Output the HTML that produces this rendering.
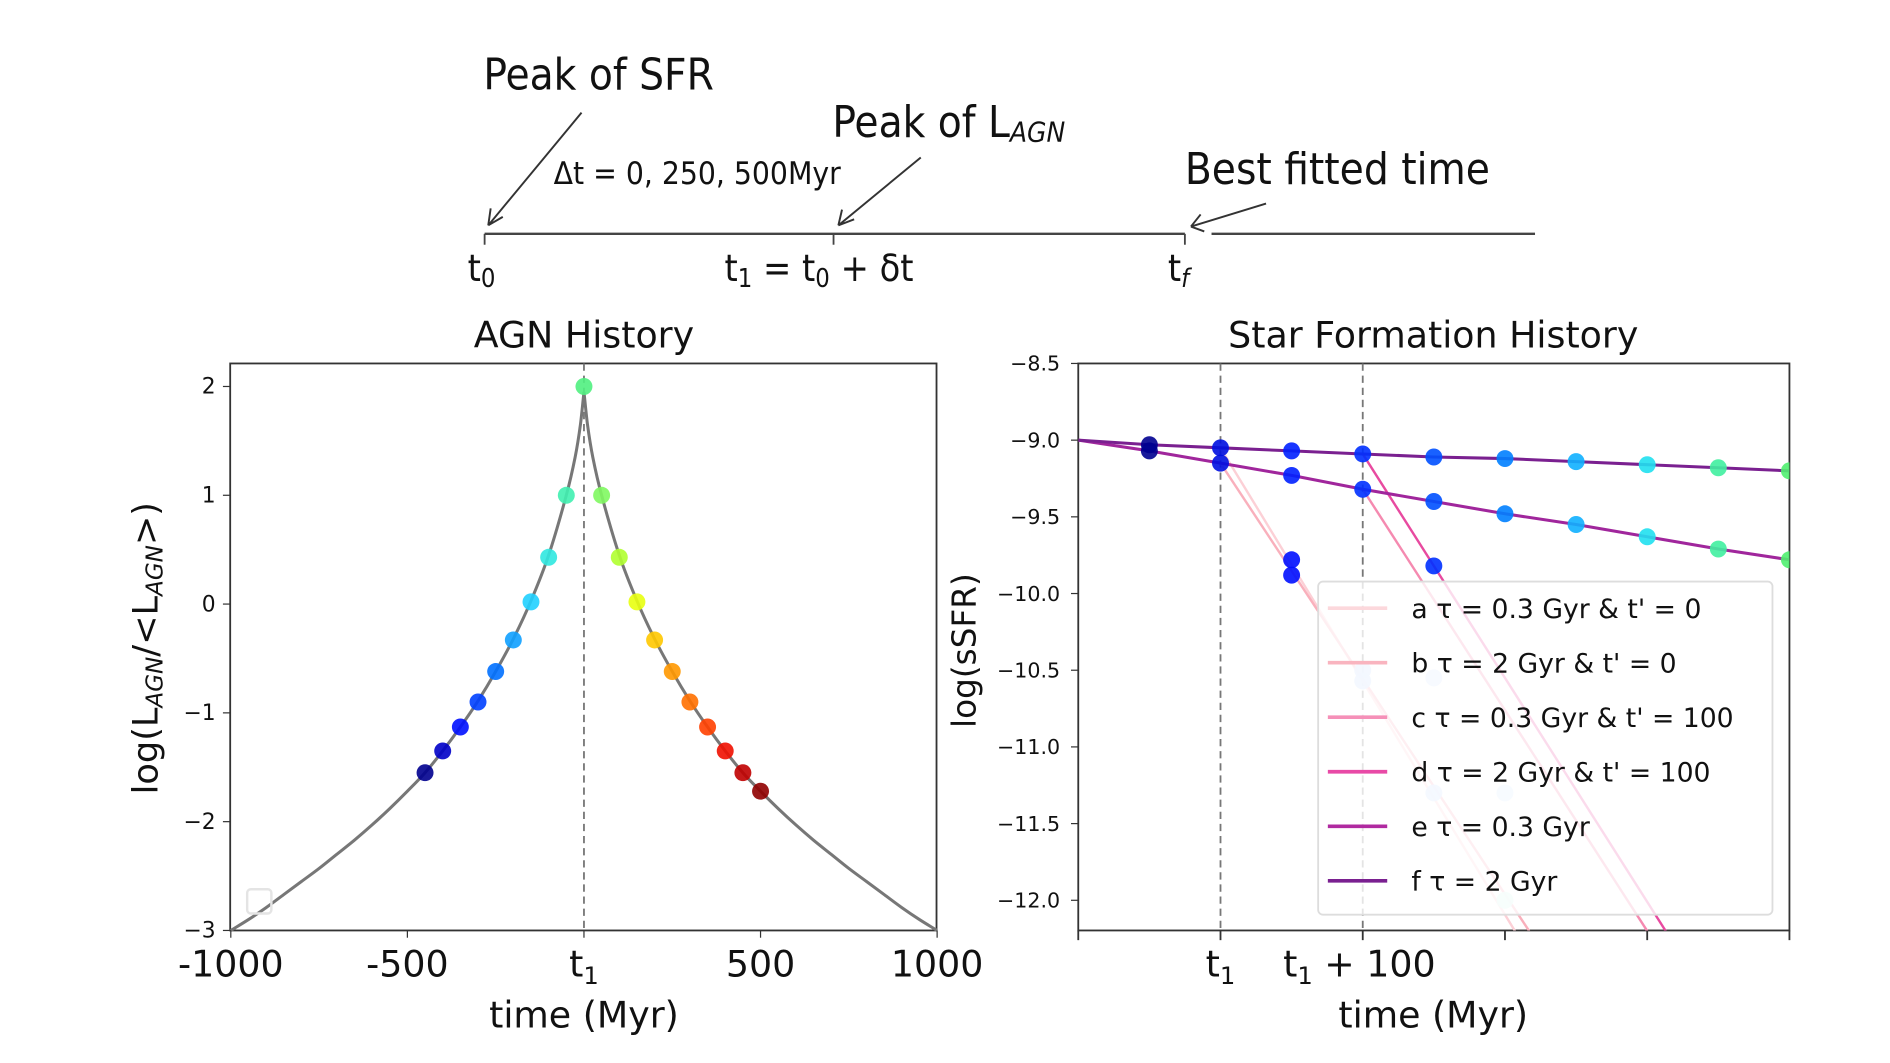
<!DOCTYPE html>
<html><head><meta charset="utf-8"><style>
html,body{margin:0;padding:0;background:#fff;}
svg{display:block;}
text{font-family:"DejaVu Sans","Liberation Sans",sans-serif;fill:#111;}
.comic{font-family:"DejaVu Sans Condensed","Liberation Sans Narrow","Liberation Sans",sans-serif;}
</style></head><body>
<svg id="fig" width="1890" height="1063" viewBox="0 0 1560 877.4" xmlns="http://www.w3.org/2000/svg">
<g id="timeline">
  <line x1="400" y1="193" x2="978" y2="193" stroke="#444" stroke-width="2"/>
  <line x1="1000" y1="193" x2="1267" y2="193" stroke="#444" stroke-width="2"/>
  <line x1="400" y1="193" x2="400" y2="202" stroke="#444" stroke-width="1.5"/>
  <line x1="688" y1="193" x2="688" y2="202" stroke="#444" stroke-width="1.5"/>
  <line x1="978" y1="193" x2="978" y2="202" stroke="#444" stroke-width="1.5"/>
  <text class="comic" x="399" y="74" font-size="36">Peak of SFR</text>
  <text class="comic" x="687" y="113" font-size="36">Peak of L<tspan font-size="23" font-style="italic" dy="4">AGN</tspan></text>
  <text class="comic" x="457" y="152" font-size="26">Δt = 0, 250, 500Myr</text>
  <text class="comic" x="978" y="152" font-size="36">Best fitted time</text>
  <g stroke="#333" stroke-width="1.6" fill="none">
    <path d="M480,93 L403,186 M403,186 l2,-14 M403,186 l12,-7"/>
    <path d="M760,130 L692,186 M692,186 l3,-13 M692,186 l13,-5"/>
    <path d="M1045,168 L983,187 M983,187 l8,-10 M983,187 l11,4"/>
  </g>
  <text class="comic" x="386" y="232" font-size="31">t<tspan font-size="21" dy="5">0</tspan></text>
  <text class="comic" x="598" y="232" font-size="31">t<tspan font-size="21" dy="5">1</tspan><tspan dy="-5"> = t</tspan><tspan font-size="21" dy="5">0</tspan><tspan dy="-5"> + δt</tspan></text>
  <text class="comic" x="964" y="232" font-size="31">t<tspan font-size="21" dy="5" font-style="italic">f</tspan></text>
</g>
<g id="left"></g>
<g id="right"></g>
</svg>
<script>
// ---------- AGN data ----------
const agnCurveT = [-1000,-950,-900,-850,-800,-750,-700,-650,-600,-550,-500,-450,-400,-350,-300,-250,-200,-150,-100,-50,-25,-10,0,10,25,50,100,150,200,250,300,350,400,450,500,550,600,650,700,750,800,850,900,950,1000];
const agnCurveY = [-3,-2.9,-2.79,-2.67,-2.55,-2.43,-2.3,-2.17,-2.03,-1.88,-1.72,-1.55,-1.35,-1.13,-0.89,-0.62,-0.32,0.03,0.45,1.0,1.35,1.65,1.95,1.65,1.35,1.0,0.45,0.03,-0.32,-0.62,-0.89,-1.13,-1.35,-1.55,-1.72,-1.88,-2.03,-2.17,-2.3,-2.43,-2.55,-2.67,-2.79,-2.9,-3];
const agnPointT = [-450,-400,-350,-300,-250,-200,-150,-100,-50,0,50,100,150,200,250,300,350,400,450,500];
const agnPointY = [-1.55,-1.35,-1.13,-0.9,-0.62,-0.33,0.02,0.43,1.0,2.0,1.0,0.43,0.02,-0.33,-0.62,-0.9,-1.13,-1.35,-1.55,-1.72];
const agnPointColor = ['#00008f','#0000c8','#0010ff','#0040ff','#0070ff','#10a0ff','#20d0ff','#30e8e0','#40f0b0','#50f080','#80f860','#b0ff30','#e8ff10','#ffc800','#ff9800','#ff7000','#ff4000','#f01000','#c00000','#900000'];
const agnYTicks = [2,1,0,-1,-2,-3];
const agnXTicks = [-1000,-500,0,500,1000];
const agnXTickLabels = ['-1000','-500','t1','500','1000'];
// ---------- SFH data ----------
const sfhT = [0,50,100,150,200,250,300,350,400,450,500];
const sfhF = [-9.0,-9.03,-9.05,-9.07,-9.09,-9.11,-9.12,-9.14,-9.16,-9.18,-9.2];
const sfhE = [-9.0,-9.07,-9.15,-9.23,-9.32,-9.4,-9.48,-9.55,-9.63,-9.71,-9.78];
const sfhMarkerColor = ['#00008f','#000090','#0010e0','#0020ff','#0030ff','#0050ff','#0080ff','#10b0ff','#20e0f0','#40f0a0','#50f070'];
const steepStartT = [100,100,200,200];
const steepStartY = [-9.05,-9.15,-9.32,-9.09];
const steepEndT = [307,317,400,413];
const steepEndY = [-12.2,-12.2,-12.2,-12.2];
const steepColor = ['#fcd0d6','#f9b0bc','#f58ab0','#e84aa0'];
const steepMarkT = [150,150,250,200,200,250,250,300,300];
const steepMarkY = [-9.78,-9.88,-9.82,-10.5,-10.57,-10.55,-11.3,-11.3,-12.0];
const steepMarkColor = ['#0010ff','#0010ff','#0030ff','#c0d8ff','#c0d8ff','#d0e0ff','#c8dcff','#d0e8ff','#d0f8f0'];
const sfhYTicks = [-8.5,-9.0,-9.5,-10.0,-10.5,-11.0,-11.5,-12.0];
const legendLabels = ["a τ = 0.3 Gyr & t' = 0","b τ = 2 Gyr & t' = 0","c τ = 0.3 Gyr & t' = 100","d τ = 2 Gyr & t' = 100","e τ = 0.3 Gyr","f τ = 2 Gyr"];
const legendColors = ['#fcd8dc','#f9b4bf','#f590b8','#e84aa6','#b02aa0','#7a2090'];

const NS='http://www.w3.org/2000/svg';
function mk(parent,tag,attrs,txt){const e=document.createElementNS(NS,tag);for(const k in attrs)e.setAttribute(k,attrs[k]);if(txt!==undefined)e.textContent=txt;parent.appendChild(e);return e;}
function smoothPath(pts){
  const n=pts.length;
  const isPeak=i=>i>0&&i<n-1&&pts[i][1]<pts[i-1][1]&&pts[i][1]<pts[i+1][1];
  const tang=(i,side)=>{ // returns slope vector per unit x
    if(isPeak(i)){const q=side>0?pts[i+1]:pts[i-1];return [1,(q[1]-pts[i][1])/(q[0]-pts[i][0])];}
    const a=pts[Math.max(0,i-1)],b=pts[Math.min(n-1,i+1)];
    return [1,(b[1]-a[1])/(b[0]-a[0])];
  };
  let d='M'+pts[0][0]+','+pts[0][1];
  for(let i=0;i<n-1;i++){
    const p1=pts[i],p2=pts[i+1],h=(p2[0]-p1[0])/3;
    const m1=tang(i,1),m2=tang(i+1,-1);
    d+=' C'+(p1[0]+h)+','+(p1[1]+m1[1]*h)+' '+(p2[0]-h)+','+(p2[1]-m2[1]*h)+' '+p2[0]+','+p2[1];
  }
  return d;
}

// ---- Left panel ----
const L=document.getElementById('left');
const lx=t=>482+(t/1000)*291.5, ly=v=>319+(2-v)*89.8;
let e=mk(L,'rect',{x:190,y:300,width:583,height:468,fill:'#fff',stroke:'#333','stroke-width':1.5});


e=mk(L,'line',{x1:lx(0),y1:300,x2:lx(0),y2:768,stroke:'#777','stroke-width':1.5,'stroke-dasharray':'6,4'});


e=mk(L,'path',{d:smoothPath(agnCurveT.map((t,i)=>[lx(t),ly(agnCurveY[i])])),fill:'none',stroke:'#777','stroke-width':2.5});


agnPointT.forEach((t,i)=>{
  const c=mk(L,'circle',{cx:lx(t),cy:ly(agnPointY[i]),r:7,fill:agnPointColor[i],opacity:0.9});
  
  
});
e=mk(L,'rect',{x:204,y:734,width:20,height:20,rx:3,fill:'none',stroke:'#e4e4e4','stroke-width':2});


agnYTicks.forEach(v=>{
  const tk=mk(L,'line',{x1:184,y1:ly(v),x2:190,y2:ly(v),stroke:'#333'});
  
  
  const tx=mk(L,'text',{x:178,y:ly(v)+6,'font-size':18,'text-anchor':'end'},v<0?'−'+(-v):String(v));
  
  
});
agnXTicks.forEach((t,i)=>{
  const tk=mk(L,'line',{x1:lx(t),y1:768,x2:lx(t),y2:774,stroke:'#333'});
  
  
  const tx=mk(L,'text',{x:lx(t),y:806,'font-size':30,'text-anchor':'middle'});
  
  
  const lab=agnXTickLabels[i];
  if(lab==='t1'){tx.textContent='t';mk(tx,'tspan',{'font-size':20,dy:6},'1');}else tx.textContent=lab;
});
e=mk(L,'text',{x:482,y:287,'font-size':30,'text-anchor':'middle'},'AGN History');


e=mk(L,'text',{x:482,y:848,'font-size':30,'text-anchor':'middle'},'time (Myr)');


e=mk(L,'text',{x:0,y:0,'font-size':29,'text-anchor':'middle',transform:'translate(130,535) rotate(-90)'});


e.textContent='log(L';mk(e,'tspan',{'font-size':19,'font-style':'italic',dy:4},'AGN');mk(e,'tspan',{dy:-4},'/<L');mk(e,'tspan',{'font-size':19,'font-style':'italic',dy:4},'AGN');mk(e,'tspan',{dy:-4},'>)');

// ---- Right panel ----
const R=document.getElementById('right');
const rx=t=>890+t*1.174, ry=v=>300+(-8.5-v)*126.6;
e=mk(R,'rect',{x:890,y:300,width:587,height:468,fill:'#fff',stroke:'#333','stroke-width':1.5});


const clip=mk(R,'clipPath',{id:'rc'});mk(clip,'rect',{x:890,y:300,width:587,height:468});
const G=mk(R,'g',{'clip-path':'url(#rc)'});
[100,200].forEach(t=>{
  const d=mk(G,'line',{x1:rx(t),y1:300,x2:rx(t),y2:768,stroke:'#777','stroke-width':1.5,'stroke-dasharray':'6,4'});
  
  
});
steepStartT.forEach((t,i)=>{
  const s=mk(G,'line',{x1:rx(t),y1:ry(steepStartY[i]),x2:rx(steepEndT[i]),y2:ry(steepEndY[i]),stroke:steepColor[i],'stroke-width':2});
  
  
});
[[sfhE,'#a0269c'],[sfhF,'#7a2090']].forEach(([arr,col],k)=>{
  const p=mk(G,'polyline',{points:sfhT.map((t,i)=>rx(t)+','+ry(arr[i])).join(' '),fill:'none',stroke:col,'stroke-width':2.5});
  
  
});
sfhT.forEach((t,i)=>{ if(i===0)return;
  [sfhE,sfhF].forEach(arr=>{
    const c=mk(G,'circle',{cx:rx(t),cy:ry(arr[i]),r:7,fill:sfhMarkerColor[i],opacity:0.9});
    
    
  });
});
steepMarkT.forEach((t,i)=>{
  const c=mk(G,'circle',{cx:rx(t),cy:ry(steepMarkY[i]),r:7,fill:steepMarkColor[i],opacity:0.9});
  
  
});
// legend
const LG=mk(R,'g',{});


mk(LG,'rect',{x:1088,y:480,width:375,height:275,rx:4,fill:'#fff','fill-opacity':0.8,stroke:'#ddd','stroke-width':1.5});
legendLabels.forEach((lab,i)=>{
  const y=502+i*45;
  const ln=mk(LG,'line',{x1:1096,y1:y,x2:1145,y2:y,stroke:legendColors[i],'stroke-width':3});
  
  
  const tx=mk(LG,'text',{x:1165,y:y+8,'font-size':22},lab);
  
  
});
sfhYTicks.forEach(v=>{
  const tk=mk(R,'line',{x1:884,y1:ry(v),x2:890,y2:ry(v),stroke:'#333'});
  
  
  const tx=mk(R,'text',{x:875,y:ry(v)+6,'font-size':17,'text-anchor':'end'},'−'+(-v).toFixed(1));
  
  
});
[0,100,200,300,400,500].forEach(t=>{
  const tk=mk(R,'line',{x1:rx(t),y1:768,x2:rx(t),y2:776,stroke:'#333','stroke-width':1.5});
  
  
});
e=mk(R,'text',{x:rx(100),y:806,'font-size':30,'text-anchor':'middle'},'t');mk(e,'tspan',{'font-size':20,dy:6},'1');


e=mk(R,'text',{x:1122,y:806,'font-size':30,'text-anchor':'middle'},'t');mk(e,'tspan',{'font-size':20,dy:6},'1');mk(e,'tspan',{dy:-6},' + 100');


e=mk(R,'text',{x:1183,y:287,'font-size':30,'text-anchor':'middle'},'Star Formation History');


e=mk(R,'text',{x:1183,y:848,'font-size':30,'text-anchor':'middle'},'time (Myr)');


e=mk(R,'text',{x:0,y:0,'font-size':27,'text-anchor':'middle',transform:'translate(805,537) rotate(-90)'},'log(sSFR)');


</script>
</body></html>
